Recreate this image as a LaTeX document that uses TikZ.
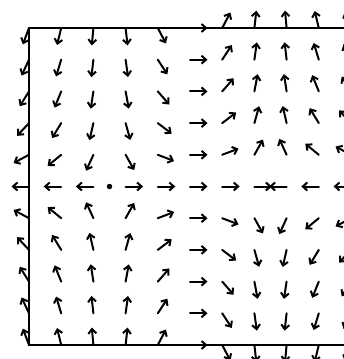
\documentclass[tikz,border=0pt]{standalone}
\usetikzlibrary{arrows.meta,calc}
\begin{document}
\begin{tikzpicture}[x=1pt,y=-1pt,
  vec/.style={line width=2pt,line cap=round,-{Straight Barb[length=4.5pt,width=8pt,line width=2pt]}},
  bound/.style={line width=2.2pt},
  crit/.style={circle,fill,inner sep=0pt,minimum size=5.5pt}]
\useasboundingbox (0,0) rectangle (344,359);
\clip (0,0) rectangle (344,359);
\coordinate (tl) at (29,28);
\coordinate (tr) at (360,28);
\coordinate (bl) at (29,345);
\coordinate (br) at (360,345);
\draw[bound] (tr) -- (tl) -- (bl) -- (br);
\foreach \i in {-5,...,5} {
  \foreach \j in {-5,...,5} {
    \pgfmathsetmacro{\X}{\i/2.5}
    \pgfmathsetmacro{\Y}{\j/2.5}
    \pgfmathsetmacro{\u}{1-\X*\X}
    \pgfmathsetmacro{\v}{2*\X*\Y}
    \pgfmathsetmacro{\ang}{atan2(\v,\u)}
    \coordinate (p) at ({190+32.2*\i},{186.5-31.7*\j});
    \coordinate (q) at ($(p)+({17.5*cos(\ang)},{-17.5*sin(\ang)})$);
    \draw[vec] (p) -- (q);
  }
}
\node[crit] (src) at (109.5,186.5) {};
\end{tikzpicture}
\end{document}
